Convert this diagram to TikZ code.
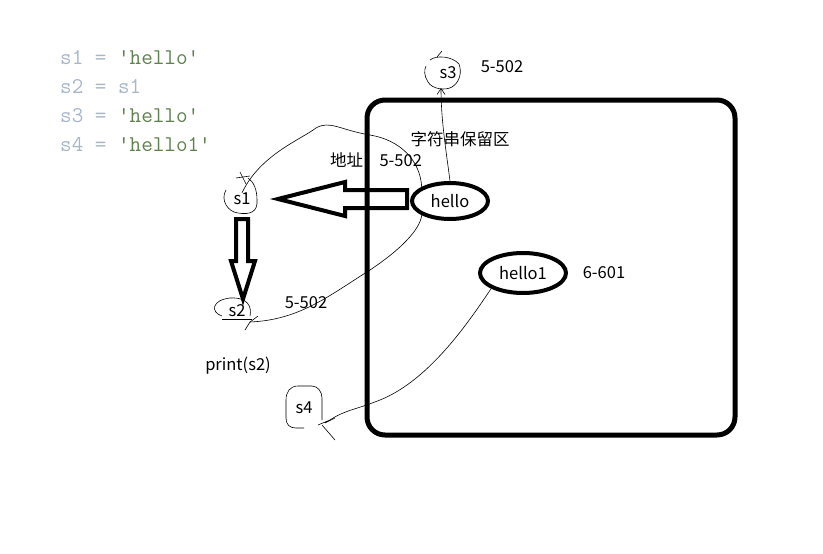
\documentclass[tikz,border=0pt]{standalone}
\usepackage{fontspec}
\setmainfont{Noto Sans CJK SC}
\setmonofont{Latin Modern Mono}
\usetikzlibrary{arrows.meta,shapes.geometric}
\definecolor{codegrey}{RGB}{168,182,200}
\definecolor{codestr}{RGB}{96,128,80}
\tikzset{
  lbl/.style={inner sep=0pt,font=\fontsize{16.5}{16.5}\selectfont},
  code/.style={inner sep=0pt,anchor=west,font=\ttfamily\fontsize{22.5}{22.5}\selectfont},
  val/.style={ellipse,draw,line width=4pt,inner sep=0pt,font=\fontsize{16.5}{16.5}\selectfont},
  hollow/.style={draw,line width=4pt,line join=miter},
  sketch/.style={draw,line width=0.6pt},
}
\begin{document}
\begin{tikzpicture}[x=1pt,y=-1pt]
\useasboundingbox (0,0) rectangle (823,554);
% code
\node[code] (c1) at (60,58) {\textcolor{codegrey}{s1 = }\textcolor{codestr}{'hello'}};
\node[code] (c2) at (60,87) {\textcolor{codegrey}{s2 = s1}};
\node[code] (c3) at (60,116) {\textcolor{codegrey}{s3 = }\textcolor{codestr}{'hello'}};
\node[code] (c4) at (60,145) {\textcolor{codegrey}{s4 = }\textcolor{codestr}{'hello1'}};
% pool
\draw[line width=5pt,rounded corners=18pt] (367,100) rectangle (735,435);
\node[lbl] (pool) at (460,139) {字符串保留区};
\node[lbl] (addr) at (376,160) {地址：5-502};
% values
\node[val,minimum width=76pt,minimum height=36pt] (hello) at (450,201) {hello};
\node[val,minimum width=86pt,minimum height=40pt] (hello1) at (523,273) {hello1};
\node[lbl] (a61) at (604,273) {6-601};
% vars
\node[lbl] (s1) at (242,199) {s1};
\node[lbl] (s2) at (237,311) {s2};
\node[lbl] (s3) at (448,73) {s3};
\node[lbl] (a3) at (502,67) {5-502};
\node[lbl] (a2) at (306,303) {5-502};
\node[lbl] (pr) at (238,366) {print(s2)};
\node[lbl] (s4) at (304,408) {s4};
% sketches around vars
\draw[sketch] (430,60) .. controls (436,55) and (452,56) .. (459,64) .. controls (462,72) and (460,82) .. (452,87) .. controls (445,91) and (432,89) .. (428,82) .. controls (424,76) and (424,70) .. (426,66);
\draw[sketch] (437,57) -- (442,51);
\draw[sketch] (226,190) .. controls (220,200) and (228,212) .. (238,213) .. controls (250,215) and (258,212) .. (257,200) .. controls (257,190) and (254,182) .. (248,178);
\draw[sketch] (240,172) -- (246,184) (236,178) -- (250,176);
\draw[sketch] (222,316) .. controls (210,312) and (212,300) .. (230,298) .. controls (248,297) and (252,307) .. (250,316);
\draw[sketch] (222,319) -- (252,319);
\draw[sketch] (298,386) .. controls (290,386) and (286,392) .. (286,400) -- (286,418) .. controls (286,425) and (290,428) .. (296,428) -- (304,428);
\draw[sketch] (298,386) -- (312,386) .. controls (318,386) and (322,392) .. (322,398) -- (322,420);
% thin connectors
\draw[sketch,-{Straight Barb[length=6pt,width=8pt]}] (hello.north) .. controls (446,150) and (441,120) .. (441,88);
\draw[sketch] (hello.north west) .. controls (420,160) and (400,140) .. (370,135) .. controls (340,130) and (330,120) .. (316,128) .. controls (300,140) and (260,155) .. (s1.north);
\draw[sketch] (hello.south west) .. controls (420,230) and (400,250) .. (370,270) .. controls (330,295) and (300,320) .. (250,322);
\draw[sketch] (250,322) -- (245,330) (258,316) -- (250,322);
\draw[sketch] (hello1.south west) .. controls (470,320) and (430,380) .. (380,400) .. controls (355,410) and (345,410) .. (330,420);
\draw[sketch] (330,420) -- (318,425) (322,425) -- (335,440) (325,423) -- (335,418);
% hollow arrows
\draw[hollow] (407,190) -- (345,190) -- (345,182) -- (278,199) -- (345,216) -- (345,208) -- (407,208) -- cycle;
\draw[hollow] (236,219) -- (248,219) -- (248,261) -- (255,261) -- (243,299) -- (231,261) -- (236,261) -- cycle;
\end{tikzpicture}
\end{document}
